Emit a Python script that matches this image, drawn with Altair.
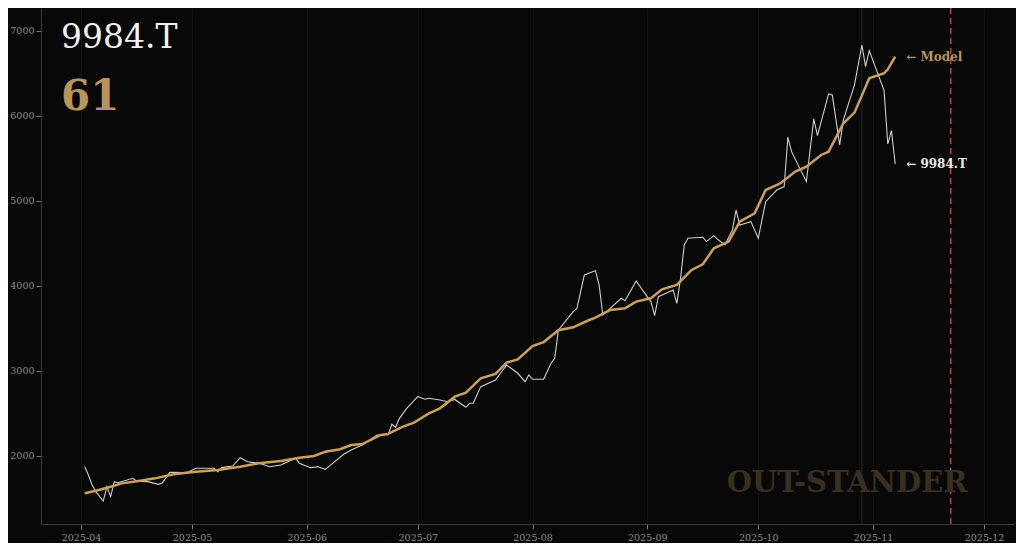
import altair as alt
import pandas as pd

# ---------------- data ----------------
price_dates = [
    "2025-04-02", "2025-04-03", "2025-04-04", "2025-04-05", "2025-04-07", "2025-04-08",
    "2025-04-09", "2025-04-10", "2025-04-11", "2025-04-15", "2025-04-16", "2025-04-19",
    "2025-04-22", "2025-04-23", "2025-04-25", "2025-04-29", "2025-04-30", "2025-05-02",
    "2025-05-07", "2025-05-08", "2025-05-09", "2025-05-12", "2025-05-14", "2025-05-16",
    "2025-05-19", "2025-05-20", "2025-05-22", "2025-05-25", "2025-05-26", "2025-05-29",
    "2025-05-30", "2025-06-02", "2025-06-04", "2025-06-06", "2025-06-08", "2025-06-11",
    "2025-06-13", "2025-06-16", "2025-06-20", "2025-06-23", "2025-06-24", "2025-06-25",
    "2025-06-26", "2025-06-28", "2025-07-01", "2025-07-03", "2025-07-04", "2025-07-07",
    "2025-07-09", "2025-07-11", "2025-07-14", "2025-07-15", "2025-07-16", "2025-07-18",
    "2025-07-22", "2025-07-25", "2025-07-28", "2025-07-30", "2025-07-31", "2025-08-01",
    "2025-08-04", "2025-08-06", "2025-08-07", "2025-08-08", "2025-08-12", "2025-08-13",
    "2025-08-15", "2025-08-18", "2025-08-19", "2025-08-20", "2025-08-21", "2025-08-25",
    "2025-08-26", "2025-08-29", "2025-09-01", "2025-09-02", "2025-09-03", "2025-09-04",
    "2025-09-08", "2025-09-09", "2025-09-10", "2025-09-11", "2025-09-12", "2025-09-16",
    "2025-09-17", "2025-09-19", "2025-09-20", "2025-09-22", "2025-09-24", "2025-09-25",
    "2025-09-26", "2025-09-29", "2025-10-01", "2025-10-03", "2025-10-06", "2025-10-08",
    "2025-10-09", "2025-10-10", "2025-10-14", "2025-10-16", "2025-10-17", "2025-10-20",
    "2025-10-21", "2025-10-23", "2025-10-24", "2025-10-27", "2025-10-29", "2025-10-30",
    "2025-10-31", "2025-11-04", "2025-11-05", "2025-11-06", "2025-11-07",
]
price_values = [
    1874, 1776, 1659, 1580, 1470, 1639,
    1521, 1698, 1686, 1738, 1706, 1698,
    1667, 1686, 1808, 1804, 1812, 1855,
    1855, 1816, 1863, 1882, 1980, 1933,
    1914, 1902, 1874, 1894, 1914, 1973,
    1914, 1863, 1874, 1843, 1914, 2020,
    2071, 2129, 2247, 2250, 2373, 2338,
    2440, 2561, 2698, 2667, 2679, 2659,
    2639, 2665, 2573, 2620, 2620, 2816,
    2894, 3071, 2973, 2874, 2953, 2902,
    2902, 3090, 3149, 3482, 3698, 3737,
    4129, 4180, 4012, 3659, 3698, 3855,
    3827, 4059, 3874, 3816, 3651, 3874,
    3953, 3796, 4090, 4482, 4561, 4573,
    4522, 4592, 4549, 4482, 4659, 4894,
    4718, 4757, 4561, 4992, 5129, 5169,
    5749, 5580, 5227, 5965, 5769, 6259,
    6247, 5659, 5953, 6365, 6835, 6580,
    6769, 6298, 5671, 5827, 5435,
]

model_dates = [
    "2025-04-02", "2025-04-05", "2025-04-09", "2025-04-12", "2025-04-17", "2025-04-21",
    "2025-04-26", "2025-05-02", "2025-05-08", "2025-05-14", "2025-05-19", "2025-05-25",
    "2025-05-30", "2025-06-03", "2025-06-06", "2025-06-10", "2025-06-13", "2025-06-16",
    "2025-06-21", "2025-06-23", "2025-06-27", "2025-06-30", "2025-07-04", "2025-07-07",
    "2025-07-11", "2025-07-14", "2025-07-18", "2025-07-22", "2025-07-25", "2025-07-28",
    "2025-08-01", "2025-08-04", "2025-08-08", "2025-08-12", "2025-08-16", "2025-08-18",
    "2025-08-22", "2025-08-26", "2025-08-29", "2025-09-02", "2025-09-05", "2025-09-09",
    "2025-09-13", "2025-09-16", "2025-09-19", "2025-09-23", "2025-09-26", "2025-09-30",
    "2025-10-03", "2025-10-07", "2025-10-11", "2025-10-14", "2025-10-18", "2025-10-20",
    "2025-10-24", "2025-10-27", "2025-10-31", "2025-11-04", "2025-11-05", "2025-11-07",
]
model_values = [
    1561, 1592, 1639, 1678, 1710, 1737,
    1784, 1816, 1835, 1874, 1914, 1941,
    1980, 2000, 2051, 2079, 2129, 2141,
    2247, 2260, 2345, 2392, 2502, 2561,
    2698, 2745, 2914, 2965, 3098, 3137,
    3294, 3340, 3480, 3514, 3594, 3627,
    3718, 3737, 3816, 3855, 3961, 4012,
    4188, 4255, 4443, 4522, 4757, 4855,
    5129, 5208, 5345, 5404, 5541, 5580,
    5914, 6039, 6443, 6502, 6549, 6698,
]

ticker = "9984.T"
score = "61"
watermark = "OUT-STANDER"
peak_date = ["2025-10-29"]
cutoff_date = ["2025-11-22"]
y_ticks = [2000, 3000, 4000, 5000, 6000, 7000]
x_tick_months = [4, 5, 6, 7, 8, 9, 10, 11, 12]

# ---------------- styling ----------------
BG = "#080808"
GOLD = "#c9a15a"
GOLD_TXT = "#b8965a"
WHITE = "#cfcfcf"
SERIF = "DejaVu Serif"

price_df = pd.DataFrame({"date": price_dates, "value": price_values})
model_df = pd.DataFrame({"date": model_dates, "value": model_values})

x_scale = alt.Scale(
    type="utc",
    domain=[
        alt.DateTime(year=2025, month=3, date=21, hours=4, minutes=30, utc=True),
        alt.DateTime(year=2025, month=12, date=9, hours=2, minutes=30, utc=True),
    ],
)
x_axis = alt.Axis(
    values=[alt.DateTime(year=2025, month=m, date=1, utc=True) for m in x_tick_months],
    labelExpr="utcFormat(datum.value, '%Y-%m')",
    title=None,
    grid=True,
    gridColor="#111111",
    labelPadding=3,
)
y_scale = alt.Scale(domain=[1200, 7270], nice=False, zero=False)
y_axis = alt.Axis(values=y_ticks, format="d", title=None, grid=False, labelPadding=2)

X = alt.X("date:T", scale=x_scale, axis=x_axis)
Y = alt.Y("value:Q", scale=y_scale, axis=y_axis)

peak_rule = alt.Chart(pd.DataFrame({"date": peak_date})).mark_rule(
    color="#262626", strokeWidth=1
).encode(x=X)

cut_rule = alt.Chart(pd.DataFrame({"date": cutoff_date})).mark_rule(
    color="#b5463f", strokeWidth=1.5, strokeDash=[6, 4]
).encode(x=X)

price_line = alt.Chart(price_df).mark_line(color=WHITE, strokeWidth=1.1).encode(x=X, y=Y)
model_line = alt.Chart(model_df).mark_line(color=GOLD, strokeWidth=2.5).encode(x=X, y=Y)

model_lbl = alt.Chart(model_df.tail(1).assign(t="← Model")).mark_text(
    align="left", baseline="middle", dx=11, font=SERIF, fontWeight="bold",
    fontSize=12, color=GOLD_TXT
).encode(x=X, y=Y, text="t:N")
price_lbl = alt.Chart(price_df.tail(1).assign(t="← " + ticker)).mark_text(
    align="left", baseline="middle", dx=11, font=SERIF, fontWeight="bold",
    fontSize=12, color="#e8e8e8"
).encode(x=X, y=Y, text="t:N")

title_txt = alt.Chart(pd.DataFrame({"t": [ticker]})).mark_text(
    align="left", baseline="middle", font=SERIF, fontSize=33, color="#f2f2f2"
).encode(x=alt.value(20), y=alt.value(30), text="t:N")
score_txt = alt.Chart(pd.DataFrame({"t": [score]})).mark_text(
    align="left", baseline="middle", font=SERIF, fontWeight="bold", fontSize=42,
    color=GOLD_TXT
).encode(x=alt.value(20), y=alt.value(89), text="t:N")
wm_txt = alt.Chart(pd.DataFrame({"t": [watermark]})).mark_text(
    align="center", baseline="middle", font=SERIF, fontWeight="bold", fontSize=29,
    color="#3a2f1f"
).encode(x=alt.value(806), y=alt.value(475), text="t:N")

chart = alt.layer(
    peak_rule, cut_rule, wm_txt, price_line, model_line,
    model_lbl, price_lbl, title_txt, score_txt,
).properties(
    width=973, height=516,
    autosize=alt.AutoSizeParams(type="none"),
    padding={"left": 33, "top": 0, "right": 2, "bottom": 19},
    background=BG,
).configure_view(
    stroke=None, fill=BG
).configure_axis(
    labelColor="#8c8c8c", labelFont=SERIF, labelFontSize=9.5,
    domainColor="#3a3a3a", tickColor="#777777", tickSize=5,
)

chart.save("out.html", embed_options={"renderer": "svg", "actions": False})
